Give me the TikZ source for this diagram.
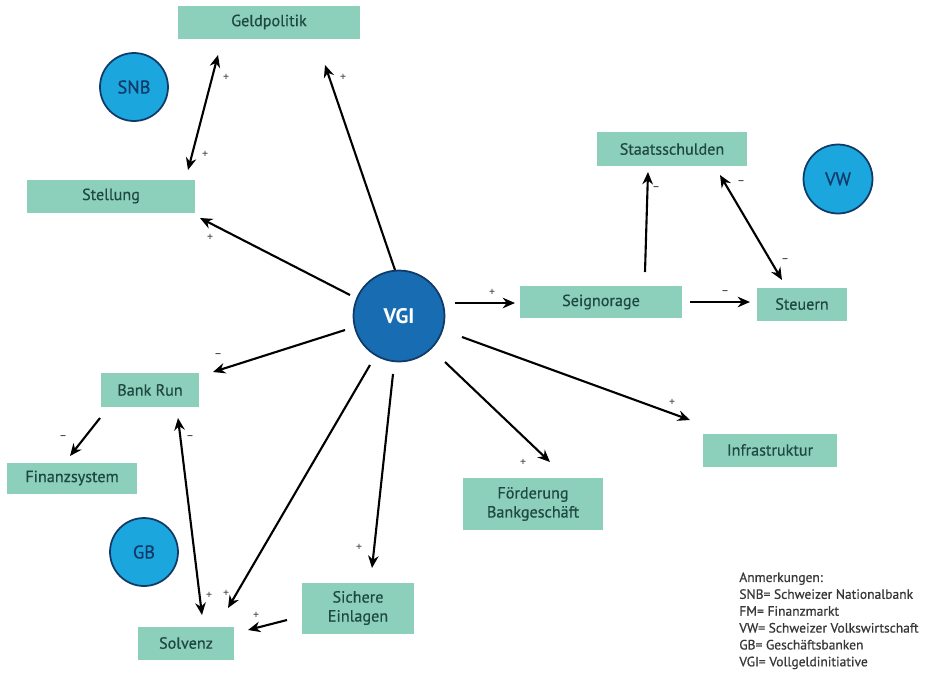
\documentclass[tikz,border=0pt]{standalone}
\usepackage{fontspec}
\setmainfont{PT Sans}
\newfontfamily\labelfont[FakeBold=0.6,Ligatures=TeX]{PT Sans}
\usetikzlibrary{calc,arrows.meta}
\definecolor{boxfill}{RGB}{140,208,187}
\definecolor{boxtext}{RGB}{32,72,66}
\definecolor{lightblue}{RGB}{28,166,222}
\definecolor{darkblue}{RGB}{24,108,178}
\definecolor{rimblue}{RGB}{16,58,104}
\definecolor{signgray}{RGB}{80,80,80}
\definecolor{notegray}{RGB}{55,55,55}
\tikzset{
  box/.style={fill=boxfill, text=boxtext, inner sep=0pt, align=center,
    font=\labelfont\fontsize{9.2}{10.8}\selectfont},
  actor/.style={circle, fill=lightblue, draw=rimblue, line width=1pt,
    minimum size=1.36cm, inner sep=0pt, text=rimblue, font=\labelfont\fontsize{10.5}{11}\selectfont},
  hub/.style={circle, fill=darkblue, draw=rimblue, line width=1pt,
    minimum size=1.82cm, inner sep=0pt, text=white, font=\bfseries\fontsize{12}{13}\selectfont},
  link/.style={line width=1.2pt, -{Stealth[length=7pt,width=6pt]}},
  twoway/.style={line width=1.2pt, {Stealth[length=7pt,width=6pt]}-{Stealth[length=7pt,width=6pt]}},
  sign/.style={text=signgray, inner sep=0pt, font=\labelfont\fontsize{6.5}{6.5}\selectfont},
}
\begin{document}
\begin{tikzpicture}[x=0.02cm, y=-0.02cm]
\useasboundingbox (0,0) rectangle (937,677);

% factor boxes
\node[box, minimum width=3.64cm, minimum height=0.66cm] (geld) at (269,22) {Geldpolitik};
\node[box, minimum width=3.36cm, minimum height=0.66cm] (stell) at (111,196) {Stellung};
\node[box, minimum width=3.02cm, minimum height=0.68cm] (staats) at (672,149) {Staatsschulden};
\node[box, minimum width=3.24cm, minimum height=0.64cm] (seign) at (601,302) {Seignorage};
\node[box, minimum width=1.82cm, minimum height=0.66cm] (steu) at (802,304) {Steuern};
\node[box, minimum width=1.98cm, minimum height=0.68cm] (bank) at (150,390) {Bank Run};
\node[box, minimum width=2.62cm, minimum height=0.62cm] (fin) at (72,478) {Finanzsystem};
\node[box, minimum width=1.94cm, minimum height=0.66cm] (solv) at (186,643) {Solvenz};
\node[box, minimum width=2.26cm, minimum height=1.02cm] (sich) at (358,608) {Sichere\\Einlagen};
\node[box, minimum width=2.80cm, minimum height=1.04cm] (foerd) at (533,504) {Förderung\\Bankgeschäft};
\node[box, minimum width=2.68cm, minimum height=0.66cm] (infra) at (770,450) {Infrastruktur};

% actors
\node[actor] (snb) at (134,87) {SNB};
\node[actor, minimum size=1.38cm] (vw) at (838,179) {VW};
\node[actor] (gb) at (144,552) {GB};
\node[hub] (vgi) at (399,316) {VGI};

% connectors
\draw[link] ($(vgi)+(-4,-46)$) -- ($(geld)+(56,43)$);
\draw[twoway] ($(geld)+(-51,33)$) -- ($(stell)+(77,-26)$);
\draw[link] ($(vgi)+(-49,-21)$) -- ($(stell)+(89,22)$);
\draw[link] ($(vgi)+(56,-13)$) -- ($(seign)+(-86,1)$);
\draw[link] ($(seign)+(89,0)$) -- ($(steu)+(-52,-2)$);
\draw[link] ($(seign)+(44,-30)$) -- ($(staats)+(-24,23)$);
\draw[twoway] ($(staats)+(48,26)$) -- ($(steu)+(-20,-24)$);
\draw[link] ($(vgi)+(-54,14)$) -- ($(bank)+(63,-18)$);
\draw[link] ($(bank)+(-50,28)$) -- ($(fin)+(-2,-22)$);
\draw[twoway] ($(bank)+(28,28)$) -- ($(solv)+(16,-28)$);
\draw[link] ($(vgi)+(-29,49)$) -- ($(solv)+(42,-35)$);
\draw[link] ($(vgi)+(-6,58)$) -- ($(sich)+(14,-40)$);
\draw[link] ($(sich)+(-71,12)$) -- ($(solv)+(62,-13)$);
\draw[link] ($(vgi)+(46,46)$) -- ($(foerd)+(17,-42)$);
\draw[link] ($(vgi)+(63,21)$) -- ($(infra)+(-80,-30)$);

% polarity signs
\node[sign] (s1) at (343,77) {+};
\node[sign] (s2) at (226,77) {+};
\node[sign] (s3) at (205,154) {+};
\node[sign] (s4) at (210,237) {+};
\node[sign] (s5) at (492,292) {+};
\node[sign] (s6) at (725,292) {–};
\node[sign] (s7) at (656,188) {–};
\node[sign] (s8) at (741,182) {–};
\node[sign] (s9) at (785,260) {–};
\node[sign] (s10) at (218,355) {–};
\node[sign] (s11) at (63,437) {–};
\node[sign] (s12) at (190,437) {–};
\node[sign] (s13) at (209,595) {+};
\node[sign] (s14) at (226,593) {+};
\node[sign] (s15) at (359,547) {+};
\node[sign] (s16) at (256,615) {+};
\node[sign] (s17) at (523,462) {+};
\node[sign] (s18) at (672,402) {+};

% notes
\node[anchor=north west, align=left, inner sep=0pt, text=notegray,
  font=\labelfont\fontsize{7.7}{9.6}\selectfont] (notes) at (739,572)
  {Anmerkungen:\\SNB= Schweizer Nationalbank\\FM= Finanzmarkt\\VW= Schweizer Volkswirtschaft\\GB= Geschäftsbanken\\VGI= Vollgeldinitiative};
\end{tikzpicture}
\end{document}
